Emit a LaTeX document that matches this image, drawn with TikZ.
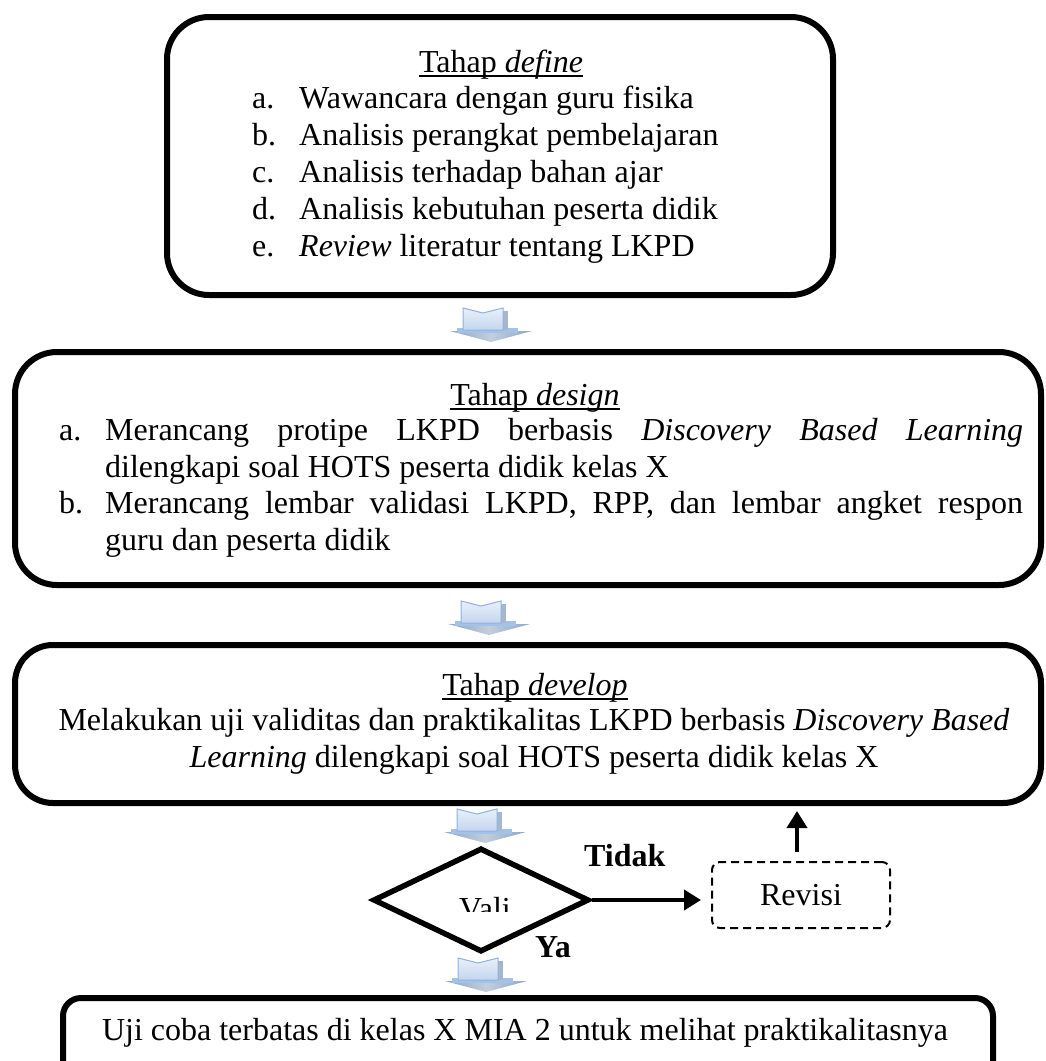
\documentclass[tikz,border=0pt]{standalone}
\usepackage{fontspec}
\setmainfont{Liberation Serif}
\usetikzlibrary{shapes.geometric,arrows.meta}
\definecolor{arrbody}{HTML}{C3D6EE}
\definecolor{arrlight}{HTML}{E9F0F9}
\definecolor{arredge}{HTML}{8DB3E2}
\definecolor{arrside}{HTML}{A7B6CA}
\definecolor{arrheadA}{HTML}{8FA6C2}
\definecolor{arrheadB}{HTML}{C2CEDC}
\newcommand\uline[1]{\setbox0\hbox{#1}\rlap{\rule[-5pt]{\wd0}{2pt}}\box0}
\begin{document}
\begin{tikzpicture}[x=1pt,y=-1pt,
  every node/.style={font=\fontsize{32}{37}\selectfont, inner sep=0pt},
  stagebox/.style={draw, line width=6pt, rounded corners=#1, rectangle},
  stagebox/.default=42pt,
  txt/.style={anchor=base west},
  ctr/.style={anchor=base},
  boldtxt/.style={anchor=base west, font=\fontsize{32}{37}\selectfont\bfseries},
  flowarrow/.style={line width=4pt, -{Triangle[length=17pt,width=20pt]}},
  blockarrow/.pic={
    \shade[left color=arrheadA, right color=arrheadA, middle color=arrheadB] (-41,23) -- (41,23) -- (0,34) -- cycle;
    \fill[arredge!80] (-34,20) rectangle (27,25);
    \fill[arrside] (12,3) rectangle (17,22);
    \shade[top color=arrlight, bottom color=arrbody, draw=arredge, line width=1pt]
      (-28,0) -- (-8,5) -- (12,0) -- (12,22) -- (-28,22) -- cycle;
  }
]
\useasboundingbox (0,0) rectangle (1046,1061);
\clip (0,0) rectangle (1046,1061);

% stage boxes
\node[stagebox, minimum width=666pt, minimum height=278pt] (b1) at (500,156) {};
\node[stagebox, minimum width=1026pt, minimum height=233pt] (b2) at (528,468.5) {};
\node[stagebox=38pt, minimum width=1026pt, minimum height=158pt] (b3) at (528,724) {};
\node[stagebox=18pt, minimum width=930pt, minimum height=110pt] (b4) at (528,1053) {};

% box 1 text
\node[ctr] (t1) at (501,72) {\uline{Tahap \emph{define}}};
\node[txt] (l1a) at (252,108) {a.};
\node[txt] (i1a) at (299,108) {Wawancara dengan guru fisika};
\node[txt] (l1b) at (252,145) {b.};
\node[txt] (i1b) at (299,145) {Analisis perangkat pembelajaran};
\node[txt] (l1c) at (252,182) {c.};
\node[txt] (i1c) at (299,182) {Analisis terhadap bahan ajar};
\node[txt] (l1d) at (252,219) {d.};
\node[txt] (i1d) at (299,219) {Analisis kebutuhan peserta didik};
\node[txt] (l1e) at (252,256) {e.};
\node[txt] (i1e) at (299,256) {\emph{Review} literatur tentang LKPD};

% box 2 text
\node[ctr] (t2) at (535,405) {\uline{Tahap \emph{design}}};
\node[txt] (l2a) at (59,440) {a.};
\node[txt] (i2a1) at (105,440) {\makebox[918pt][s]{Merancang protipe LKPD berbasis \emph{Discovery Based Learning}}};
\node[txt] (i2a2) at (105,477) {dilengkapi soal HOTS peserta didik kelas X};
\node[txt] (l2b) at (59,513) {b.};
\node[txt] (i2b1) at (105,513) {\makebox[918pt][s]{Merancang lembar validasi LKPD, RPP, dan lembar angket respon}};
\node[txt] (i2b2) at (105,550) {guru dan peserta didik};

% box 3 text
\node[ctr] (t3) at (535,695) {\uline{Tahap \emph{develop}}};
\node[ctr] (i3a) at (534,730) {Melakukan uji validitas dan praktikalitas LKPD berbasis \emph{Discovery Based}};
\node[ctr] (i3b) at (534,767) {\emph{Learning} dilengkapi soal HOTS peserta didik kelas X};

% box 4 text
\node[ctr] (t4) at (525,1040) {Uji coba terbatas di kelas X MIA 2 untuk melihat praktikalitasnya};

% block arrows
\pic at (491,308) {blockarrow};
\pic at (489,601) {blockarrow};
\pic at (485,809) {blockarrow};
\pic at (486,958) {blockarrow};

% decision
\node[draw, diamond, line width=5.5pt, minimum width=216pt, minimum height=104pt] (dec) at (481,900) {};
\begin{scope}
  \clip (440,880) rectangle (530,911);
  \node[ctr] (vali) at (485,919) {Vali};
\end{scope}
\node[boldtxt] (tidak) at (584,866) {Tidak};
\node[boldtxt] (ya) at (535,957) {Ya};

% revisi
\node[draw, dash pattern=on 8pt off 5pt, line width=2pt, rounded corners=8pt,
      minimum width=178pt, minimum height=66pt] (rev) at (801,895) {Revisi};

% connectors
\draw[flowarrow, shorten >=10pt] (dec.east) -- (dec.east -| rev.west);
\draw[flowarrow, shorten <=9pt, shorten >=5pt] ([xshift=-4pt]rev.north) -- ([xshift=-4pt]rev.north |- b3.south);
\end{tikzpicture}
\end{document}
